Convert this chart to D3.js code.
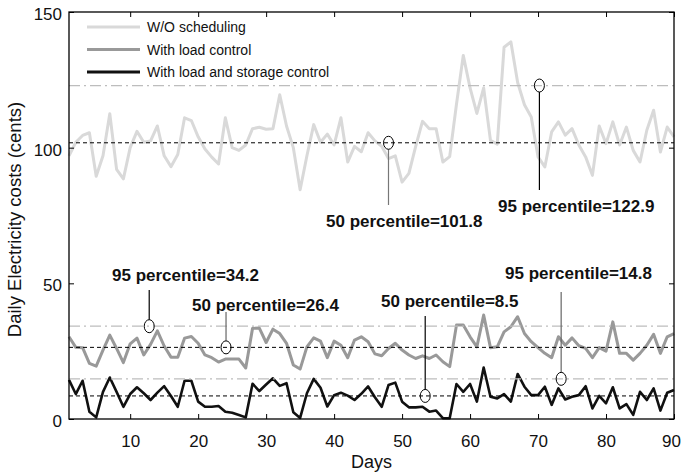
<!DOCTYPE html>
<html>
<head>
<meta charset="utf-8">
<script src="https://cdn.jsdelivr.net/npm/d3@7"></script>
<style>
  body { margin: 0; background: #fff; }
  svg { display: block; font-family: "Liberation Sans", Arial, sans-serif; }
</style>
</head>
<body>
<svg id="chart" width="682" height="474"></svg>
<script>
// dati: costo giornaliero (centesimi) per i 90 giorni
var days = d3.range(1, 91);

var woScheduling = [97, 102, 104.5, 105.5, 89.5, 97, 112.5, 92, 88.5, 100,
  106, 102, 102.5, 108, 97, 93, 97.5, 111, 110, 104,
  99.5, 96.5, 94, 111, 100, 99, 101, 107, 107.5, 106.8,
  107, 119.5, 108, 100, 84.5, 97, 108.5, 102, 105, 101,
  111, 94.7, 100.5, 98.5, 105.5, 102.5, 100.5, 96, 97, 87.3,
  90.5, 100.5, 109.7, 107, 107, 94.7, 96.7, 116, 134, 122,
  112.6, 122, 102.7, 101.3, 137, 139, 124, 115.8, 111.3, 96.6,
  92.9, 105.8, 109.5, 104.6, 107, 101, 96.6, 89.8, 108, 101.5,
  109.5, 101, 107.6, 99, 94.7, 106.4, 113.8, 98.4, 107.6, 104];

var loadControl = [30.3, 26.4, 26.3, 20.5, 19.5, 25.4, 30.9, 26, 20.8, 27.7,
  29.8, 23.6, 27.5, 32.5, 26.9, 22.8, 22.8, 29.8, 30.4, 27.9,
  23.6, 22.6, 21, 22.1, 22.1, 22.1, 18.8, 33.4, 33.5, 28.2,
  33.1, 31.5, 27.9, 19.9, 18.4, 26.6, 29.9, 28.7, 22.6, 28.7,
  27.2, 22.6, 29.1, 30.3, 28.5, 24, 23.3, 26, 27.9, 25.4,
  23.6, 22.3, 23.3, 22.3, 23.6, 21.1, 19.3, 34.6, 34.6, 30.3,
  26.6, 38.3, 26.3, 26.6, 32.1, 34, 37.7, 31.5, 28.5, 26.3,
  24.2, 22.6, 30.3, 27.2, 29.9, 27, 26, 22.6, 26.3, 25,
  35.8, 24.2, 24.2, 21.7, 24.2, 27.2, 31.2, 24.2, 30.3, 31.5];

var loadStorage = [14.4, 9.2, 14.1, 2.7, 0.6, 10, 15.3, 10, 4.5, 9.2,
  11.7, 9.5, 7, 9.7, 12.1, 8.5, 4.5, 14.1, 14.1, 6.4,
  4.5, 4.5, 4.8, 2.7, 2.3, 1.5, 0.6, 13, 10.3, 12.7,
  15, 12.2, 13.2, 2.5, 0.4, 9.5, 14.8, 11.5, 4.6, 8.8,
  9.7, 8.6, 7, 9.3, 12, 8, 4.5, 12.5, 13.4, 6.4,
  4.3, 4.3, 4.5, 2.7, 3.1, 0.3, 0.3, 12.9, 10, 12.9,
  6.4, 19, 8.2, 7.6, 9.2, 6.4, 16.6, 11.9, 8.8, 8.8,
  11.9, 5.2, 11.3, 7.2, 8.2, 8.8, 12.1, 3.9, 8.5, 5.8,
  11.7, 3.9, 5.5, 1.5, 10, 7, 11.3, 3.1, 9.7, 10.7];

var seriesNames = ["W/O scheduling", "With load control", "With load and storage control"];
var xTicks = [10, 20, 30, 40, 50, 60, 70, 80, 90];
var yTicks = [0, 50, 100, 150];

// percentili: 95 (linea tratto-punto) e 50 (linea tratteggiata)
var p95 = [122.9, 34.2, 14.8];
var p50 = [101.8, 26.4, 8.5];

// annotazioni: giorno del cerchietto, valore, testo
var noteDays   = [48, 70.2, 12.8, 24.1, 53.4, 73.4];
var noteValues = [101.8, 122.9, 34.2, 26.4, 8.5, 14.8];
var noteTexts  = ["50 percentile=101.8", "95 percentile=122.9", "95 percentile=34.2",
  "50 percentile=26.4", "50 percentile=8.5", "95 percentile=14.8"];

// impaginazione delle annotazioni (pixel): fine della linea, inizio e base del testo
var noteLayout = [
  { lineEnd: 205, tx: 326, ty: 227, down: true,  stroke: "#777" },
  { lineEnd: 190, tx: 498, ty: 212, down: true,  stroke: "#000" },
  { lineEnd: 290, tx: 112, ty: 281, down: false, stroke: "#000" },
  { lineEnd: 312, tx: 192, ty: 311, down: false, stroke: "#666" },
  { lineEnd: 316, tx: 381, ty: 307, down: false, stroke: "#000" },
  { lineEnd: 292, tx: 505, ty: 279, down: false, stroke: "#666" }
];

var colors = ["#d9d9d9", "#999999", "#111111"];
var widths = [3, 3, 2.6];

var svg = d3.select("#chart");
// margini del riquadro (attenzione: "top" è già window.top)
var pL = 69, pR = 674, pT = 12, pB = 419;

var x = d3.scaleLinear().domain([1, 90]).range([pL, pR]);
var y = d3.scaleLinear().domain([0, 150]).range([pB, pT]);

// serie
var line = d3.line()
  .x(function(d, i) { return x(days[i]); })
  .y(function(d) { return y(d); });

[woScheduling, loadControl, loadStorage].forEach(function(s, k) {
  svg.append("path").datum(s)
    .attr("d", line)
    .attr("fill", "none")
    .attr("stroke", colors[k])
    .attr("stroke-width", widths[k])
    .attr("stroke-linejoin", "round");
});

// linee dei percentili
svg.selectAll(".p95").data(p95).enter().append("line")
  .attr("x1", pL).attr("x2", pR)
  .attr("y1", function(d) { return y(d); }).attr("y2", function(d) { return y(d); })
  .attr("stroke", "#bdbdbd").attr("stroke-width", 1.3)
  .attr("stroke-dasharray", "11,4,2,4");

svg.selectAll(".p50").data(p50).enter().append("line")
  .attr("x1", pL).attr("x2", pR)
  .attr("y1", function(d) { return y(d); }).attr("y2", function(d) { return y(d); })
  .attr("stroke", "#000").attr("stroke-width", 1)
  .attr("stroke-dasharray", "4,3");

// assi (tacche verso l'interno, su tutti e quattro i lati)
var gx = svg.append("g").attr("transform", "translate(0," + pB + ")")
  .call(d3.axisBottom(x).tickValues(xTicks).tickSizeInner(-5).tickSizeOuter(0).tickPadding(16));
var gxt = svg.append("g").attr("transform", "translate(0," + pT + ")")
  .call(d3.axisTop(x).tickValues(xTicks).tickSizeInner(-5).tickSizeOuter(0).tickFormat(""));
var gy = svg.append("g").attr("transform", "translate(" + pL + ",0)")
  .call(d3.axisLeft(y).tickValues(yTicks).tickSizeInner(-5).tickSizeOuter(0).tickPadding(7));
var gyr = svg.append("g").attr("transform", "translate(" + pR + ",0)")
  .call(d3.axisRight(y).tickValues(yTicks).tickSizeInner(-5).tickSizeOuter(0).tickFormat(""));

[gx, gxt, gy, gyr].forEach(function(g) {
  g.select(".domain").remove();
  g.selectAll("text").attr("font-family", null).attr("font-size", 17).attr("fill", "#111");
  g.selectAll("line").attr("stroke", "#000");
});
gy.selectAll("text").attr("dy", "0.45em");
// l'ultima etichetta (90) tocca il bordo: la sposto un poco a sinistra
gx.selectAll("text").filter(function(d) { return d === 90; }).attr("dx", -3);

svg.append("rect")
  .attr("x", pL).attr("y", pT)
  .attr("width", pR - pL).attr("height", pB - pT)
  .attr("fill", "none").attr("stroke", "#000").attr("stroke-width", 1.3);

// titoli degli assi
svg.append("text").attr("x", (pL + pR) / 2).attr("y", 468)
  .attr("text-anchor", "middle").attr("font-size", 18).attr("fill", "#111")
  .text("Days");
svg.append("text")
  .attr("transform", "translate(21," + ((pT + pB) / 2 + 4) + ") rotate(-90)")
  .attr("text-anchor", "middle").attr("font-size", 18.5).attr("fill", "#111")
  .text("Daily Electricity costs (cents)");

// legenda
seriesNames.forEach(function(name, k) {
  var ly = 27 + k * 22.5;
  svg.append("line").attr("x1", 87).attr("x2", 140).attr("y1", ly).attr("y2", ly)
    .attr("stroke", colors[k]).attr("stroke-width", 3);
  svg.append("text").attr("x", 147).attr("y", ly + 5)
    .attr("font-size", 14).attr("fill", "#111").text(name);
});

// annotazioni
noteDays.forEach(function(d, i) {
  var cx = x(d), cy = y(noteValues[i]), L = noteLayout[i];
  svg.append("line")
    .attr("x1", cx).attr("x2", cx)
    .attr("y1", L.down ? cy + 6.5 : cy - 6.5).attr("y2", L.lineEnd)
    .attr("stroke", L.stroke).attr("stroke-width", 1.2);
  svg.append("ellipse").attr("cx", cx).attr("cy", cy).attr("rx", 5).attr("ry", 6.5)
    .attr("fill", "none").attr("stroke", "#000").attr("stroke-width", 1);
  svg.append("text").attr("x", L.tx).attr("y", L.ty)
    .attr("font-size", 17).attr("font-weight", "bold").attr("fill", "#111")
    .text(noteTexts[i]);
});
</script>
</body>
</html>
